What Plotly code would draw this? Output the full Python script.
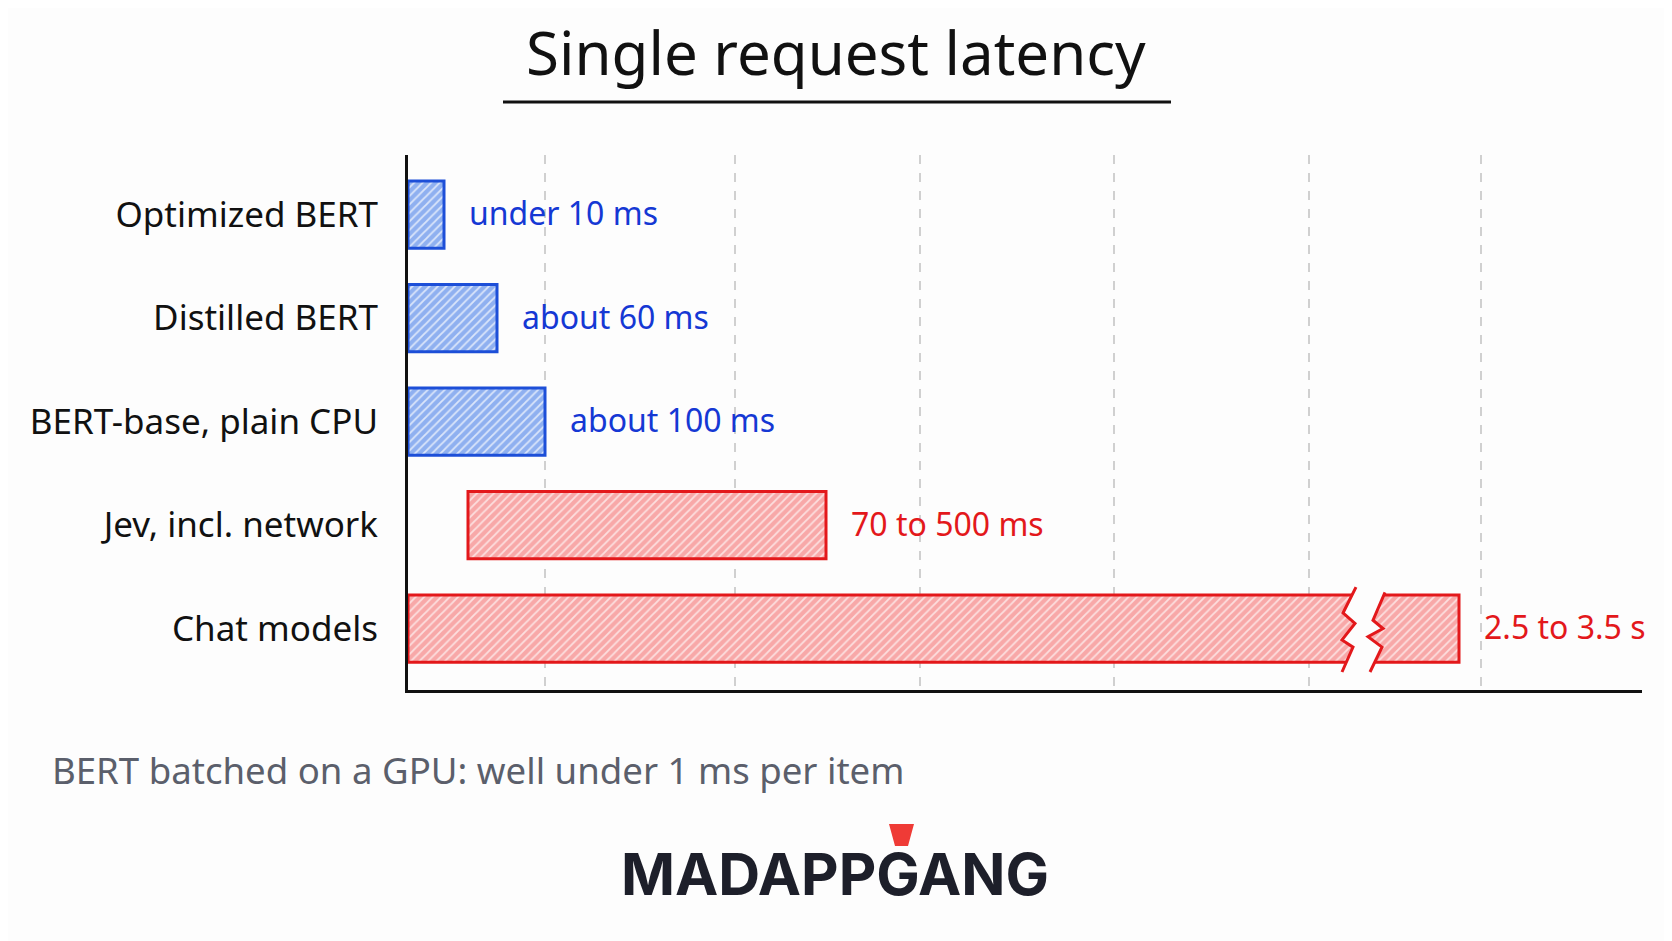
import plotly.graph_objects as go

# ---------------- data (x is the chart's drawn scale) ----------------
categories = ["Optimized BERT", "Distilled BERT", "BERT-base, plain CPU",
              "Jev, incl. network", "Chat models"]
bar_start = [0.0, 0.0, 0.0, 6.0, 0.0]
bar_end = [3.6, 8.9, 13.7, 41.8, 105.1]
value_labels = ["under 10 ms", "about 60 ms", "about 100 ms", "70 to 500 ms", "2.5 to 3.5 s"]
bar_group = ["fast", "fast", "fast", "slow", "slow"]
chat_break = [93.4, 96.0]          # axis break drawn inside the "Chat models" bar
grid_positions = [13.7, 32.7, 51.2, 70.6, 90.1, 107.3]
x_range = [0, 123.4]

title_text = "Single request latency"
footnote_text = "BERT batched on a GPU: well under 1 ms per item"
logo_text = "MADAPPGANG"

# ---------------- styling ----------------
PAGE_W, PAGE_H = 1672, 941
OFF = 8                              # page body margin
W, H = PAGE_W - OFF, PAGE_H - OFF
BG = "#fdfdfd"
HAND = "Noto Sans"
colors = {
    "fast": dict(line="#1d4fd8", bg="#8fb0f0", fg="#e8effc", text="#1538d4"),
    "slow": dict(line="#e3181b", bg="#f8a8a8", fg="#fde9e9", text="#e3181b"),
}
n = len(categories)
ypos = [n - 1 - i for i in range(n)]      # top to bottom
BAR_W = 0.65

def px_x(p):
    return (p - OFF) / W

def px_y(p):
    return 1 - (p - OFF) / H

fig = go.Figure()

# split chat bar at the break
zig_left_dx = [1.4, 0.1, 1.3, 0.0, 1.1, 0.0]
zig_left_dy = [0.40, 0.15, 0.05, -0.11, -0.18, -0.42]
zig_right_dx = [1.7, 0.5, 1.5, 0.0, 1.4, 0.2]
zig_right_dy = [0.35, 0.08, 0.0, -0.08, -0.18, -0.42]

segments = {"fast": ([], [], []), "slow": ([], [], [])}
for i in range(n):
    g = bar_group[i]
    ys, bases, lens = segments[g]
    if categories[i] == "Chat models":
        lo_edge = chat_break[0] + 1.3
        ys += [ypos[i], ypos[i]]
        bases += [bar_start[i], chat_break[1]]
        lens += [lo_edge - bar_start[i], bar_end[i] - chat_break[1]]
    else:
        ys.append(ypos[i])
        bases.append(bar_start[i])
        lens.append(bar_end[i] - bar_start[i])

for g, (ys, bases, lens) in segments.items():
    c = colors[g]
    fig.add_trace(go.Bar(
        orientation="h", y=ys, x=lens, base=bases, width=BAR_W,
        marker=dict(
            color=c["bg"],
            line=dict(color=c["line"], width=3),
            pattern=dict(shape="/", bgcolor=c["bg"], fgcolor=c["fg"],
                         fgopacity=0.85, size=6, solidity=0.3, fillmode="replace"),
        ),
        hoverinfo="skip", showlegend=False,
    ))

annotations = []
for i in range(n):
    annotations.append(dict(
        x=bar_end[i], y=ypos[i], xref="x", yref="y", text=value_labels[i],
        showarrow=False, xanchor="left", yanchor="middle", xshift=23, yshift=2,
        font=dict(family=HAND, size=32, color=colors[bar_group[i]]["text"]),
    ))

annotations.append(dict(
    x=px_x(836), y=px_y(52), xref="paper", yref="paper", text=title_text,
    showarrow=False, xanchor="center", yanchor="middle",
    font=dict(family=HAND, size=60, color="#111111"),
))
annotations.append(dict(
    x=px_x(50), y=px_y(770), xref="paper", yref="paper", text=footnote_text,
    showarrow=False, xanchor="left", yanchor="middle",
    font=dict(family=HAND, size=36.6, color="#5b5f6b"),
))
annotations.append(dict(
    x=px_x(835), y=px_y(874), xref="paper", yref="paper", text="<b>" + logo_text + "</b>",
    showarrow=False, xanchor="center", yanchor="middle",
    font=dict(family="Inter", size=58, color="#1d1f2a"),
))

shapes = []
# title underline
shapes.append(dict(type="line", xref="paper", yref="paper",
                   x0=px_x(503), x1=px_x(1171), y0=px_y(102), y1=px_y(102),
                   line=dict(color="#111111", width=3)))
# logo marker
mx = [889, 914, 908, 895]
my = [824, 824, 846, 846]
shapes.append(dict(type="path", xref="paper", yref="paper",
                   path="M " + " L ".join(f"{px_x(a)},{px_y(b)}" for a, b in zip(mx, my)) + " Z",
                   fillcolor="#ef3b36", line=dict(width=0)))

# axis break on the chat bar
ci = categories.index("Chat models")
yc = ypos[ci]
lx = [chat_break[0] + d for d in zig_left_dx]
ly = [yc + d for d in zig_left_dy]
rx = [chat_break[1] + d for d in zig_right_dx]
ry = [yc + d for d in zig_right_dy]
gap_pts = list(zip(lx, ly)) + list(zip(rx[::-1], ry[::-1]))
shapes.append(dict(type="path", xref="x", yref="y", layer="above",
                   path="M " + " L ".join(f"{a},{b}" for a, b in gap_pts) + " Z",
                   fillcolor=BG, line=dict(width=0)))
for xs, ys_ in ((lx, ly), (rx, ry)):
    shapes.append(dict(type="path", xref="x", yref="y", layer="above",
                       path="M " + " L ".join(f"{a},{b}" for a, b in zip(xs, ys_)),
                       line=dict(color=colors["slow"]["line"], width=3)))

fig.update_layout(
    width=W, height=H,
    margin=dict(l=0, r=0, t=0, b=0),
    paper_bgcolor=BG, plot_bgcolor=BG,
    barmode="overlay",
    annotations=annotations, shapes=shapes,
    xaxis=dict(
        domain=[px_x(408), px_x(1642)], range=x_range,
        tickvals=grid_positions, showticklabels=False, ticks="",
        showgrid=True, gridcolor="#d0d0d0", gridwidth=1.5, griddash="dash",
        zeroline=False, showline=True, linecolor="#111111", linewidth=3,
        fixedrange=True,
    ),
    yaxis=dict(
        domain=[px_y(690), px_y(155)], range=[-0.594, 4.575],
        tickvals=ypos, ticktext=categories, ticks="", ticklabelstandoff=20,
        tickfont=dict(family=HAND, size=35, color="#111111"),
        showgrid=False, zeroline=False, showline=True, linecolor="#111111", linewidth=3,
        fixedrange=True,
    ),
)

fig.write_html("out.html")
